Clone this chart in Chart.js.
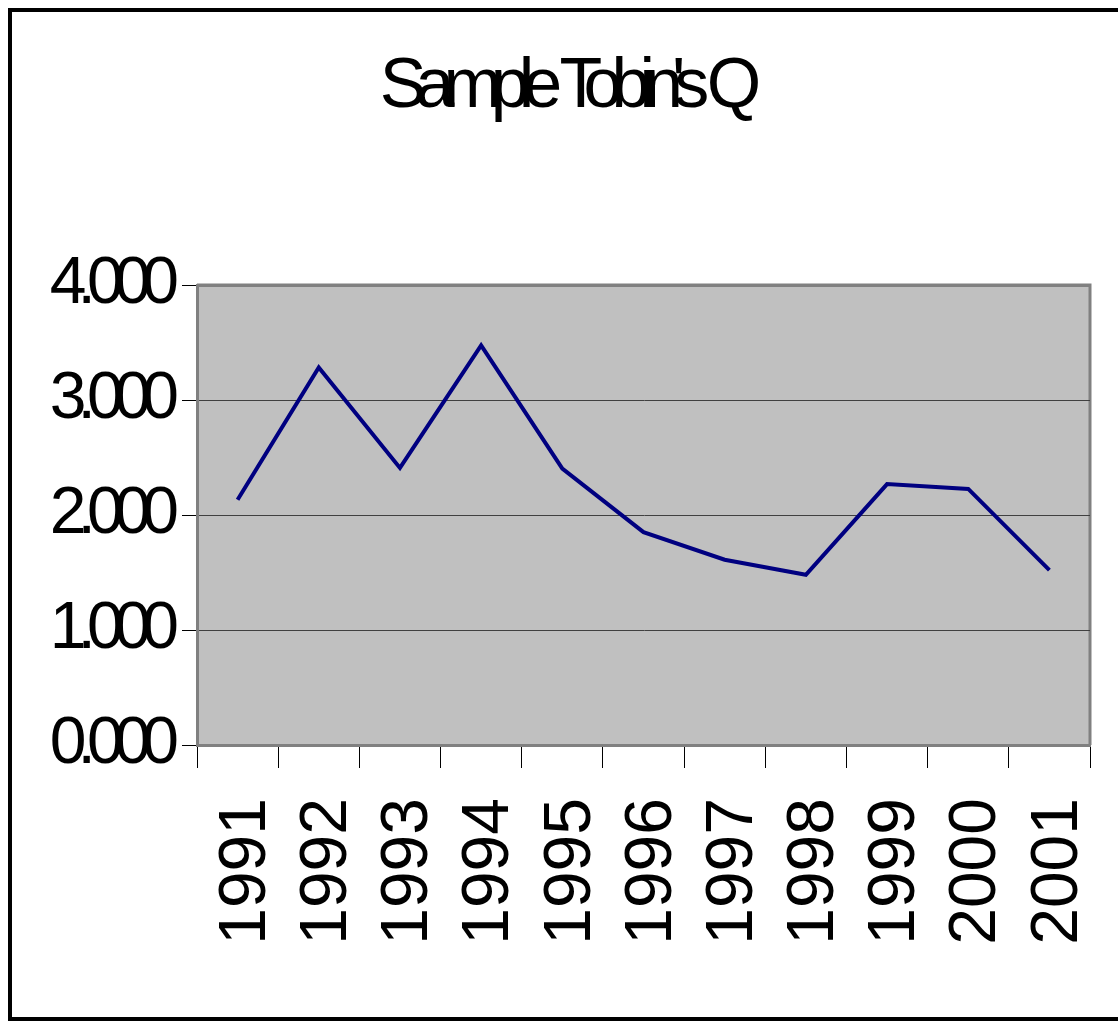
<!DOCTYPE html>
<html>
<head>
<meta charset="utf-8">
<script src="https://cdn.jsdelivr.net/npm/chart.js@4/dist/chart.umd.min.js"></script>
<style>
  html, body { margin: 0; padding: 0; background: #fff; overflow: hidden; }
  #wrap { position: relative; width: 1118px; height: 1023px; }
</style>
</head>
<body>
<div id="wrap"><canvas id="cQ"></canvas></div>
<script>
// data
const years = ['1991','1992','1993','1994','1995','1996','1997','1998','1999','2000','2001'];
const tobinQ = [2.132, 3.283, 2.409, 3.474, 2.403, 1.851, 1.611, 1.480, 2.269, 2.227, 1.520];
const chartTitle = "Sample Tobin's Q";

const FONT = '"Liberation Sans", Arial, sans-serif';

// old-excel look: frame, grey plot area, squeezed text for title + y labels
const framePlug = {
  id: 'frame',
  beforeDraw(chart) {
    const { ctx, chartArea: a } = chart;
    ctx.save();
    ctx.fillStyle = '#fff';
    ctx.fillRect(0, 0, chart.width, chart.height);
    ctx.strokeStyle = '#000';
    ctx.lineWidth = 4;
    ctx.strokeRect(10, 10, chart.width + 20, 1009);
    ctx.fillStyle = '#c0c0c0';
    ctx.fillRect(a.left, a.top, a.right - a.left, a.bottom - a.top);
    ctx.strokeStyle = '#808080';
    ctx.lineWidth = 3;
    ctx.beginPath();
    ctx.moveTo(a.left, a.top);
    ctx.lineTo(a.right, a.top);
    ctx.lineTo(a.right, a.bottom);
    ctx.stroke();
    ctx.restore();
  },
  afterLayout(chart) {
    // tight letter spacing like the reference
    const squeeze = (obj, fn, px, dx) => {
      if (!obj || obj['_sq' + fn]) return;
      const orig = obj[fn].bind(obj);
      obj[fn] = function (arg) {
        chart.ctx.save();
        chart.ctx.letterSpacing = px;
        chart.ctx.translate(dx, 0);
        orig(arg);
        chart.ctx.restore();
      };
      obj['_sq' + fn] = true;
    };
    squeeze(chart.scales.y, 'drawLabels', '-9px', 0);
    squeeze(chart.titleBlock, 'draw', '-11px', 20);
  }
};

new Chart(document.getElementById('cQ'), {
  type: 'line',
  data: {
    labels: years,
    datasets: [{
      label: 'Tobin Q',
      data: tobinQ,
      borderColor: '#000080',
      borderWidth: 4,
      pointRadius: 0,
      tension: 0,
      fill: false
    }]
  },
  options: {
    responsive: true,
    maintainAspectRatio: false,
    animation: false,
    layout: { padding: { left: 0, right: 28, top: 0, bottom: 0 } },
    plugins: {
      legend: { display: false },
      tooltip: { enabled: false },
      title: {
        display: true,
        text: chartTitle,
        color: '#000',
        font: { family: FONT, size: 70, weight: 'normal', lineHeight: 1 },
        padding: { top: 53, bottom: 162 }
      }
    },
    scales: {
      x: {
        offset: true,
        grid: {
          offset: true,
          drawOnChartArea: false,
          color: '#000',
          tickLength: 23
        },
        border: { color: '#808080', width: 3 },
        ticks: {
          minRotation: 90,
          maxRotation: 90,
          autoSkip: false,
          padding: 30,
          labelOffset: 9,
          color: '#000',
          font: { family: FONT, size: 66 }
        },
        afterFit(s) {
          s.height = 278;
          s.paddingLeft = 0;
          s.paddingRight = 0;
        }
      },
      y: {
        min: 0,
        max: 4,
        grid: {
          color: c => (c.tick && c.tick.value === 4) ? '#808080' : '#404040',
          lineWidth: c => (c.tick && c.tick.value === 4) ? 3 : 1,
          tickColor: '#000',
          tickWidth: 1,
          tickLength: 15
        },
        border: { color: '#808080', width: 3 },
        ticks: {
          stepSize: 1,
          padding: 12,
          color: '#000',
          font: { family: FONT, size: 66 },
          callback: v => Number(v).toFixed(3)
        },
        afterFit(s) { s.width = 197; }
      }
    }
  },
  plugins: [framePlug]
});
</script>
</body>
</html>
